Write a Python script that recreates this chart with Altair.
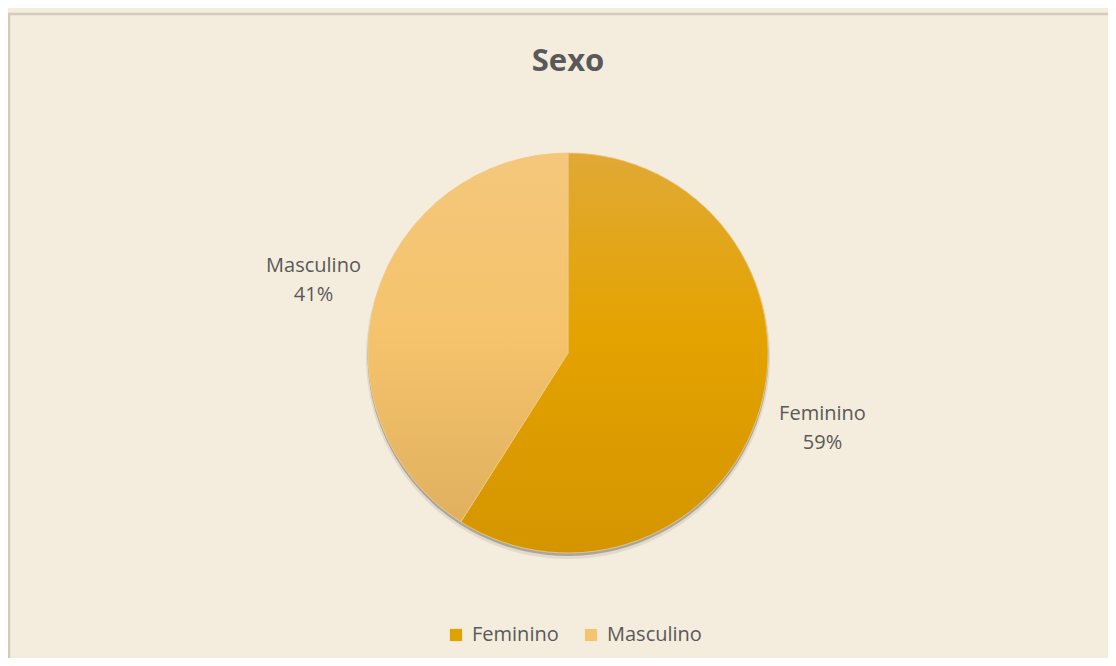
import altair as alt
import pandas as pd

categories = ["Feminino", "Masculino"]
values = [59, 41]
order_idx = [0, 1]
legend_colors = ["#DFA200", "#F3C570"]
title_text = "Sexo"

W, H = 1100, 650
CX, CY = 560, 345
R = 200
FONT = "Open Sans"
TXT = "#595959"

df = pd.DataFrame({"cat": categories, "value": values, "idx": order_idx})

grad_fem = {
    "gradient": "linear", "x1": 0, "y1": 0, "x2": 0, "y2": 1,
    "stops": [
        {"offset": 0, "color": "#E1A935"},
        {"offset": 0.45, "color": "#E4A300"},
        {"offset": 1, "color": "#D49500"},
    ],
}
grad_mas = {
    "gradient": "linear", "x1": 0, "y1": 0, "x2": 0, "y2": 1,
    "stops": [
        {"offset": 0, "color": "#F4C77B"},
        {"offset": 0.5, "color": "#F5C36B"},
        {"offset": 1, "color": "#E1B05F"},
    ],
}

base = alt.Chart(df).encode(
    theta=alt.Theta("value:Q", stack=True),
    order=alt.Order("idx:Q"),
    x=alt.value(CX),
    y=alt.value(CY),
)

shadow2 = base.mark_arc(radius=R + 2, fill="#444444", opacity=0.10).encode(y=alt.value(CY + 4))
shadow1 = base.mark_arc(radius=R + 0.5, fill="#444444", opacity=0.35).encode(y=alt.value(CY + 2.5))

legend_layer = base.mark_arc(radius=R).encode(
    color=alt.Color(
        "cat:N",
        scale=alt.Scale(domain=categories, range=legend_colors),
        legend=alt.Legend(
            title=None,
            orient="none",
            legendX=438,
            legendY=617,
            direction="horizontal",
            symbolType="square",
            symbolSize=150,
            symbolStrokeWidth=0,
            labelFont=FONT,
            labelFontSize=20,
            labelColor=TXT,
            labelOffset=6,
            columnPadding=22,
        ),
    )
)

grad_layer = base.mark_arc(radius=R, stroke="#EDCB8A", strokeWidth=0.8).encode(
    fill=alt.when(alt.datum.cat == "Feminino").then(alt.value(grad_fem)).otherwise(alt.value(grad_mas))
)

labels = base.transform_calculate(
    label="datum.cat + '\\n' + datum.value + '%'"
).mark_text(
    radius=265, dy=-13, lineBreak="\n", lineHeight=29, font=FONT, fontSize=20,
    color=TXT, align="center", baseline="middle"
).encode(text="label:N")

title = alt.Chart(pd.DataFrame({"t": [title_text]})).mark_text(
    font=FONT, fontSize=31, fontWeight="bold", color=TXT, align="center", baseline="middle"
).encode(text="t:N", x=alt.value(CX), y=alt.value(54))

border = alt.Chart(pd.DataFrame({"d": [0]})).mark_rect(
    fill=None, stroke="#D3CBBB", strokeWidth=2.5
).encode(x=alt.value(1), y=alt.value(6), x2=alt.value(W + 50), y2=alt.value(H + 50))

chart = alt.layer(shadow2, shadow1, legend_layer, grad_layer, labels, title, border).properties(
    width=W, height=H,
    background="#F4EDDD",
    padding=0,
    autosize=alt.AutoSizeParams(type="none"),
).configure_view(stroke=None)

chart.save("out.html", embed_options={"renderer": "svg", "actions": False})
